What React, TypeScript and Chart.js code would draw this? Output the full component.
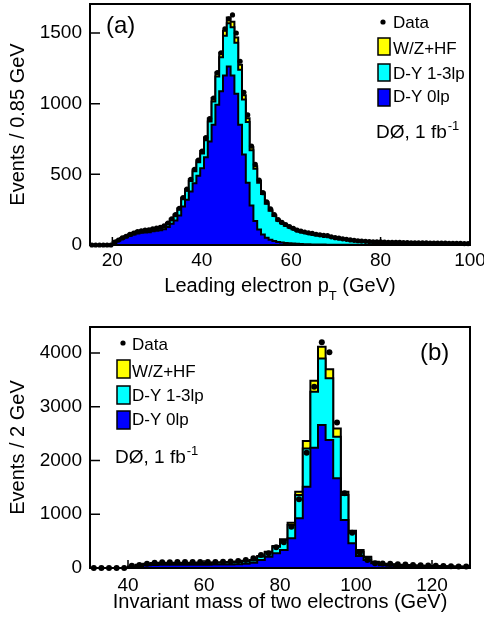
import React, { useEffect, useRef } from "react";
import { Chart, registerables } from "chart.js";
Chart.register(...registerables);

// ---------- panel (a): leading electron pT, bins of 0.85 GeV starting at 15 GeV ----------
const PT_LO = 15;
const PT_W = 0.85;
const PT_DATA = [
  0, 0, 0, 0, 0, 0, 20, 35, 50, 62,
  75, 85, 95, 100, 105, 108, 115, 120, 125, 135,
  155, 185, 215, 260, 335, 395, 465, 535, 600, 665,
  760, 895, 1040, 1220, 1360, 1530, 1600, 1628, 1500, 1300,
  1080, 920, 700, 570, 460, 370, 305, 255, 215, 180,
  160, 145, 130, 118, 105, 98, 92, 86, 82, 76,
  72, 68, 66, 58, 52, 48, 44, 40, 36, 33,
  30, 28, 26, 24, 23, 22, 22, 20, 19, 18,
  18, 18, 17, 17, 16, 16, 15, 15, 15, 14,
  14, 14, 13, 13, 12, 12, 11, 11, 10, 10,
];
const PT_DY0 = [
  0, 0, 0, 0, 0, 0, 18, 31, 44, 55,
  65, 74, 82, 86, 89, 91, 97, 101, 104, 111,
  127, 150, 173, 209, 272, 320, 378, 437, 490, 543,
  621, 733, 850, 992, 1088, 1200, 1262, 1200, 1070, 850,
  640, 440, 280, 170, 110, 75, 52, 38, 28, 22,
  18, 15, 12, 10, 8, 7, 6, 5, 4, 4,
  3, 3, 2, 2, 2, 1, 1, 1, 1, 1,
  1, 0, 0, 0, 0, 0, 0, 0, 0, 0,
  0, 0, 0, 0, 0, 0, 0, 0, 0, 0,
  0, 0, 0, 0, 0, 0, 0, 0, 0, 0,
];
const PT_DY13 = [
  0, 0, 0, 0, 0, 0, 2, 3, 5, 6,
  8, 9, 11, 12, 13, 14, 15, 16, 18, 20,
  24, 30, 36, 44, 55, 65, 75, 85, 95, 105,
  120, 140, 165, 200, 240, 280, 307, 340, 360, 390,
  390, 430, 390, 370, 330, 285, 240, 205, 178, 150,
  135, 122, 112, 102, 92, 86, 80, 75, 70, 65,
  65, 62, 60, 53, 47, 44, 40, 36, 32, 29,
  26, 24, 22, 20, 19, 18, 17, 16, 15, 14,
  12, 12, 11, 11, 10, 10, 9, 9, 9, 8,
  8, 8, 7, 7, 7, 6, 6, 6, 5, 5,
];
const PT_WZHF = [
  0, 0, 0, 0, 0, 0, 0, 1, 1, 1,
  2, 2, 2, 2, 3, 3, 3, 3, 3, 4,
  4, 5, 6, 7, 8, 10, 12, 13, 15, 17,
  19, 22, 25, 28, 32, 36, 40, 40, 38, 35,
  30, 27, 22, 18, 15, 12, 10, 8, 7, 6,
  5, 5, 4, 4, 3, 3, 3, 3, 2, 2,
  2, 2, 2, 2, 2, 1, 1, 1, 1, 1,
  1, 1, 1, 1, 1, 1, 1, 1, 1, 1,
  1, 1, 1, 1, 0, 0, 0, 0, 0, 0,
  0, 0, 0, 0, 0, 0, 0, 0, 0, 0,
];
const PT_XTICKS = [20, 40, 60, 80, 100];
const PT_YTICKS = [0, 500, 1000, 1500];

// ---------- panel (b): di-electron invariant mass, bins of 2 GeV starting at 30 GeV ----------
const M_LO = 30;
const M_W = 2;
const M_DATA = [
  0, 0, 0, 0, 0, 40, 55, 80, 100, 105,
  108, 110, 112, 110, 112, 110, 112, 115, 120, 130,
  150, 180, 242, 273, 385, 478, 769, 1278, 2146, 3373,
  4199, 4013, 2710, 1389, 657, 285, 149, 87, 85, 78,
  70, 64, 58, 52, 47, 42, 38, 34, 30, 27,
];
const M_DY0 = [
  0, 0, 0, 0, 0, 15, 38, 52, 58, 60,
  61, 62, 62, 62, 62, 62, 63, 64, 66, 70,
  78, 96, 149, 211, 273, 335, 552, 924, 1513, 2240,
  2660, 2381, 1668, 893, 459, 223, 149, 87, 52, 44,
  38, 33, 29, 26, 23, 21, 19, 17, 15, 13,
];
const M_DY13 = [
  0, 0, 0, 0, 0, 8, 18, 24, 28, 30,
  31, 32, 32, 32, 33, 33, 34, 35, 37, 42,
  48, 45, 64, 81, 121, 178, 248, 434, 713, 1040,
  1240, 1148, 775, 465, 198, 81, 52, 26, 24, 22,
  20, 18, 16, 15, 14, 13, 12, 11, 10, 9,
];
const M_WZHF = [
  0, 0, 0, 0, 0, 2, 4, 5, 6, 6,
  6, 6, 6, 6, 6, 6, 6, 7, 7, 7,
  8, 8, 10, 12, 15, 20, 43, 62, 137, 205,
  218, 168, 155, 62, 37, 31, 10, 5, 4, 4,
  3, 3, 3, 3, 2, 2, 2, 2, 2, 2,
];
const M_XTICKS = [40, 60, 80, 100, 120];
const M_YTICKS = [0, 1000, 2000, 3000, 4000];

const LEGEND_LABELS = ["Data", "W/Z+HF", "D-Y 1-3lp", "D-Y 0lp"];
const C_WZ = "#ffff00";
const C_DY13 = "#00ffff";
const C_DY0 = "#0000ff";
const FONT = "'Liberation Sans', Arial, Helvetica, sans-serif";

function stepPoints(lo: number, w: number, vals: number[]) {
  const pts = vals.map((v, i) => ({ x: lo + i * w, y: v }));
  pts.push({ x: lo + vals.length * w, y: vals[vals.length - 1] });
  return pts;
}
function centerPoints(lo: number, w: number, vals: number[]) {
  return vals.map((v, i) => ({ x: lo + (i + 0.5) * w, y: v }));
}

type Panel = {
  lo: number; w: number; data: number[]; dy0: number[]; dy13: number[]; wz: number[];
  xmin: number; xmax: number; ymax: number; xticks: number[]; yticks: number[];
  padTop: number; xScaleH: number; tickPad: number; ptR: number;
  yTitle: string; xTitle: string[]; xTitleBase: number;
  tag: string; tagX: number; tagBase: number;
  legTextX: number; legDot: [number, number]; legBases: number[]; boxes: number[][];
  d0X: number; d0Base: number;
};

function makePlugin(p: Panel) {
  return {
    id: "panelDeco",
    beforeDatasetsDraw(chart: any) {
      const { ctx, chartArea: a, scales } = chart;
      const x = scales.x, y = scales.y;
      ctx.save();
      ctx.strokeStyle = "#000";
      ctx.lineWidth = 1.5;
      ctx.beginPath();
      x.ticks.forEach((t: any) => {
        const px = x.getPixelForValue(t.value);
        ctx.moveTo(px, a.bottom);
        ctx.lineTo(px, a.bottom - 8);
      });
      y.ticks.forEach((t: any) => {
        const py = y.getPixelForValue(t.value);
        ctx.moveTo(a.left, py);
        ctx.lineTo(a.left + 10, py);
      });
      ctx.stroke();
      ctx.restore();
    },
    afterDraw(chart: any) {
      const { ctx, chartArea: a } = chart;
      ctx.save();
      ctx.strokeStyle = "#000";
      ctx.lineWidth = 2;
      ctx.strokeRect(a.left, a.top, a.right - a.left, a.bottom - a.top);
      ctx.fillStyle = "#000";
      ctx.textBaseline = "alphabetic";
      ctx.textAlign = "left";
      const mainF = `20px ${FONT}`;
      const subF = `13px ${FONT}`;
      const parts = p.xTitle;
      ctx.font = mainF;
      const w0 = ctx.measureText(parts[0]).width;
      let w1 = 0, w2 = 0;
      if (parts.length > 1) {
        ctx.font = subF;
        w1 = ctx.measureText(parts[1]).width;
        ctx.font = mainF;
        w2 = ctx.measureText(parts[2]).width;
      }
      const sx = (a.left + a.right) / 2 - (w0 + w1 + w2) / 2;
      ctx.font = mainF;
      ctx.fillText(parts[0], sx, p.xTitleBase);
      if (parts.length > 1) {
        ctx.font = subF;
        ctx.fillText(parts[1], sx + w0, p.xTitleBase + 8);
        ctx.font = mainF;
        ctx.fillText(parts[2], sx + w0 + w1, p.xTitleBase);
      }
      ctx.font = `24px ${FONT}`;
      ctx.fillText(p.tag, p.tagX, p.tagBase);
      ctx.beginPath();
      ctx.arc(p.legDot[0], p.legDot[1], 2.6, 0, Math.PI * 2);
      ctx.fill();
      ctx.font = `17px ${FONT}`;
      ctx.fillText(LEGEND_LABELS[0], p.legTextX, p.legBases[0]);
      const cols = [C_WZ, C_DY13, C_DY0];
      for (let i = 0; i < 3; i++) {
        const b = p.boxes[i];
        ctx.fillStyle = cols[i];
        ctx.fillRect(b[0], b[1], b[2], b[3]);
        ctx.strokeStyle = "#000";
        ctx.lineWidth = 1.5;
        ctx.strokeRect(b[0], b[1], b[2], b[3]);
        ctx.fillStyle = "#000";
        ctx.fillText(LEGEND_LABELS[i + 1], p.legTextX, p.legBases[i + 1]);
      }
      ctx.font = `19px ${FONT}`;
      const t1 = "D\u00d8, 1 fb";
      ctx.fillText(t1, p.d0X, p.d0Base);
      const tw = ctx.measureText(t1).width;
      ctx.font = `13px ${FONT}`;
      ctx.fillText("-1", p.d0X + tw + 1, p.d0Base - 8);
      ctx.restore();
    },
  };
}

function makeConfig(p: Panel): any {
  const tickFont = { family: FONT, size: 19 };
  return {
    type: "line",
    data: {
      datasets: [
        {
          label: LEGEND_LABELS[0],
          data: centerPoints(p.lo, p.w, p.data),
          showLine: false,
          pointRadius: p.ptR,
          pointBackgroundColor: "#000",
          pointBorderWidth: 0,
          stack: "data",
          clip: false,
        },
        {
          label: LEGEND_LABELS[3],
          data: stepPoints(p.lo, p.w, p.dy0),
          stepped: "before",
          borderColor: "#000",
          borderWidth: 2,
          backgroundColor: C_DY0,
          fill: "origin",
          pointRadius: 0,
          stack: "mc",
        },
        {
          label: LEGEND_LABELS[2],
          data: stepPoints(p.lo, p.w, p.dy13),
          stepped: "before",
          borderColor: "#000",
          borderWidth: 2,
          backgroundColor: C_DY13,
          fill: 1,
          pointRadius: 0,
          stack: "mc",
        },
        {
          label: LEGEND_LABELS[1],
          data: stepPoints(p.lo, p.w, p.wz),
          stepped: "before",
          borderColor: "#000",
          borderWidth: 2,
          backgroundColor: C_WZ,
          fill: 2,
          pointRadius: 0,
          stack: "mc",
        },
      ],
    },
    options: {
      responsive: false,
      animation: false,
      devicePixelRatio: 1,
      events: [],
      layout: { padding: { left: 0, right: 14, top: p.padTop, bottom: 0 } },
      plugins: { legend: { display: false }, tooltip: { enabled: false } },
      scales: {
        x: {
          type: "linear",
          min: p.xmin,
          max: p.xmax,
          grid: { display: false, drawTicks: false },
          border: { display: false },
          ticks: {
            font: tickFont,
            color: "#000",
            padding: p.tickPad,
            maxRotation: 0,
            autoSkip: false,
            callback: (v: any) => String(v),
          },
          afterBuildTicks: (s: any) => {
            s.ticks = p.xticks.map((v) => ({ value: v }));
          },
          afterFit: (s: any) => {
            s.height = p.xScaleH;
            s.paddingLeft = 0;
            s.paddingRight = 0;
          },
        },
        y: {
          type: "linear",
          stacked: true,
          min: 0,
          max: p.ymax,
          grid: { display: false, drawTicks: false },
          border: { display: false },
          ticks: {
            font: tickFont,
            color: "#000",
            padding: 8,
            autoSkip: false,
            callback: (v: any) => String(v),
          },
          afterBuildTicks: (s: any) => {
            s.ticks = p.yticks.map((v) => ({ value: v }));
          },
          afterFit: (s: any) => {
            s.width = 90;
            s.paddingTop = 0;
            s.paddingBottom = 0;
          },
          title: {
            display: true,
            text: p.yTitle,
            color: "#000",
            font: { family: FONT, size: 20 },
            padding: { top: 6, bottom: 0 },
          },
        },
      },
    },
    plugins: [makePlugin(p)],
  };
}

const PANEL_A: Panel = {
  lo: PT_LO, w: PT_W, data: PT_DATA, dy0: PT_DY0, dy13: PT_DY13, wz: PT_WZHF,
  xmin: 15, xmax: 100, ymax: 1705, xticks: PT_XTICKS, yticks: PT_YTICKS,
  padTop: 4, xScaleH: 68, tickPad: 4, ptR: 2.6,
  yTitle: "Events / 0.85 GeV", xTitle: ["Leading electron p", "T", " (GeV)"], xTitleBase: 292,
  tag: "(a)", tagX: 106, tagBase: 33,
  legTextX: 393, legDot: [383, 22], legBases: [28, 54, 79, 102],
  boxes: [[378, 38, 12, 17], [378, 64, 12, 17], [378, 89, 12, 17]],
  d0X: 376, d0Base: 138,
};

const PANEL_B: Panel = {
  lo: M_LO, w: M_W, data: M_DATA, dy0: M_DY0, dy13: M_DY13, wz: M_WZHF,
  xmin: 30, xmax: 130, ymax: 4485, xticks: M_XTICKS, yticks: M_YTICKS,
  padTop: 14, xScaleH: 58, tickPad: 6, ptR: 3,
  yTitle: "Events / 2 GeV", xTitle: ["Invariant mass of two electrons (GeV)"], xTitleBase: 295,
  tag: "(b)", tagX: 420, tagBase: 47,
  legTextX: 132, legDot: [123, 30], legBases: [37, 64, 88, 112],
  boxes: [[117, 47, 13, 18], [117, 73, 13, 18], [117, 98, 13, 18]],
  d0X: 115, d0Base: 150,
};

function PanelChart({ panel, top }: { panel: Panel; top: number }) {
  const ref = useRef<HTMLCanvasElement | null>(null);
  useEffect(() => {
    if (!ref.current) return;
    const chart = new Chart(ref.current, makeConfig(panel));
    return () => chart.destroy();
  }, [panel]);
  return (
    <canvas
      ref={ref}
      width={484}
      height={313}
      style={{ position: "absolute", left: 0, top, width: 484, height: 313, display: "block" }}
    />
  );
}

export default function App() {
  return (
    <div style={{ position: "absolute", left: 0, top: 0, width: 484, height: 626, background: "#fff" }}>
      <PanelChart panel={PANEL_A} top={0} />
      <PanelChart panel={PANEL_B} top={313} />
    </div>
  );
}
